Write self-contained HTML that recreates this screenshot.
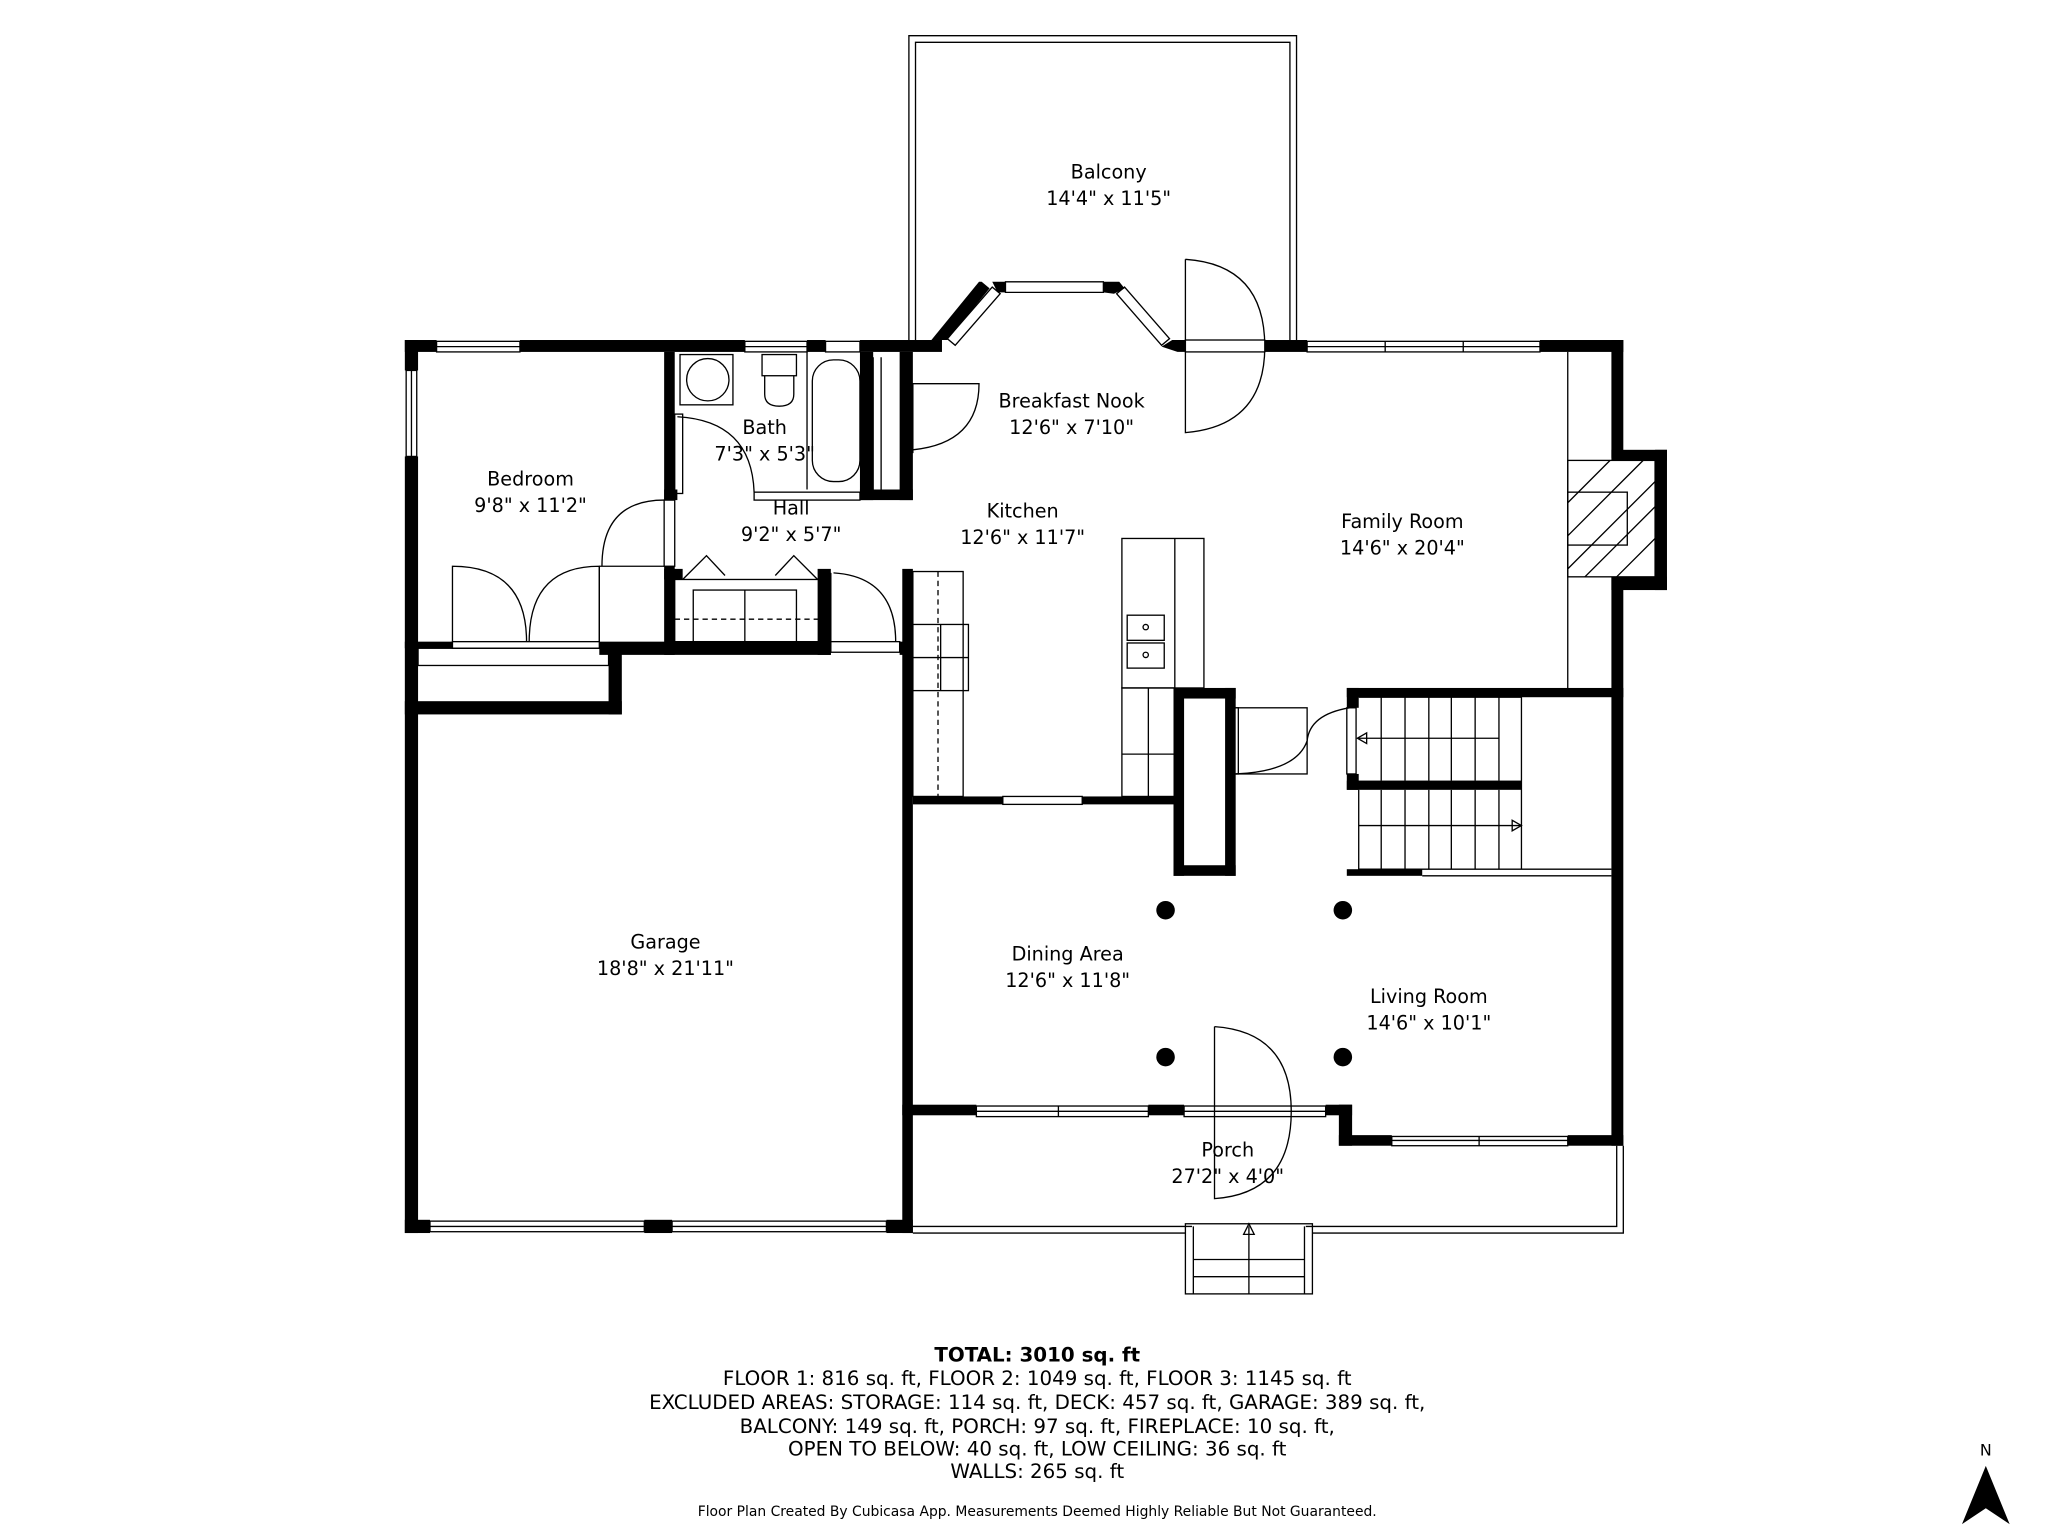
<!DOCTYPE html>
<html><head><meta charset="utf-8">
<style>
html,body{margin:0;padding:0;background:#fff;}
svg{display:block;}
text{font-family:"DejaVu Sans","Liberation Sans",sans-serif;fill:#000;}
</style></head>
<body>
<svg width="2048" height="1536" viewBox="0 0 1548 1161" preserveAspectRatio="none" xmlns="http://www.w3.org/2000/svg">
<rect x="0" y="0" width="1548" height="1161" fill="#fff"/>
<g fill="none" stroke="#000" stroke-width="1">
<path d="M687 257 V27 H980 V257"/>
<path d="M692 257 V32 H975 V257"/>
<path d="M690 932 H896 M992 932 H1227 V866"/>
<path d="M690 927 H901 M987 927 H1222 V866"/>
<rect x="896" y="925" width="96" height="53"/>
<path d="M902 927 V978 M986 927 V978 M902 952 H986 M902 965 H986 M944 927 V978"/>
<path d="M944 925 l-4 8 h8 z"/>
<path d="M342 485 V428 Q398 428 398 485"/>
<path d="M453 485 V428 Q400 428 400 485"/>
<path d="M453 485 V428 M453 428 H502"/>
<path d="M455 428 Q455 378 502 378"/>
<path d="M512 315 Q568 318 570 372"/>
<rect x="510" y="313" width="6" height="60"/>
<rect x="514" y="268" width="40" height="38"/>
<circle cx="535" cy="287" r="16"/>
<rect x="576" y="268" width="26" height="16"/>
<path d="M578 284 V298 Q578 307 589 307 Q600 307 600 298 V284"/>
<rect x="614" y="272" width="36" height="92" rx="16"/>
<path d="M610 266 V370"/>
<path d="M516 438 L534 420 L548 435 M586 435 L600 420 L618 438"/>
<rect x="510" y="438" width="110" height="47"/>
<rect x="524" y="446" width="78" height="39"/>
<path d="M563 446 V485"/>
<path d="M510 468 H620" stroke-dasharray="4 3"/>
<path d="M630 433 Q677 436 677 485 M628 433 V485"/>
<rect x="628" y="485" width="52" height="8"/>
<rect x="502" y="378" width="8" height="50"/>
<path d="M690 290 Q735 290 740 290 Q740 335 690 340"/>
<rect x="684" y="290" width="6" height="52"/>
<path d="M660 270 V372 M666 270 V372"/>
<rect x="690" y="432" width="38" height="170"/>
<path d="M709 432 V602" stroke-dasharray="4 3"/>
<rect x="690" y="472" width="42" height="50"/>
<path d="M711 472 V522 M690 497 H732"/>
<rect x="848" y="407" width="62" height="113"/>
<path d="M888 407 V520"/>
<rect x="848" y="520" width="40" height="82"/>
<path d="M848 570 H888 M868 520 V602" />
<rect x="852" y="465" width="28" height="19"/><rect x="852" y="486" width="28" height="19"/>
<circle cx="866" cy="474" r="2"/><circle cx="866" cy="495" r="2"/>
<path d="M896 196 Q956 200 956 262 Q956 322 896 327 V196"/>
<rect x="896" y="257" width="60" height="9" fill="#fff"/>
<path d="M1185 266 V522"/>
<rect x="1185" y="348" width="66" height="88"/>
<rect x="1185" y="372" width="45" height="40"/>
<path d="M1185 380 L1217 348 M1185 405 L1242 348 M1185 430 L1251 364 M1198 436 L1251 383 M1222 436 L1251 407"/>
<rect x="930" y="535" width="58" height="50"/>
<path d="M934 585 Q980 583 988 560 Q990 540 1020 535"/>
<rect x="930" y="535" width="6" height="50"/>
<rect x="1018" y="535" width="7" height="50"/>
<path d="M1027 527 H1150 V657 M1027 597 V657 H1218"/>
<path d="M1044 527 V590 M1062 527 V590 M1080 527 V590 M1097 527 V590 M1115 527 V590 M1133 527 V590"/>
<path d="M1044 597 V657 M1062 597 V657 M1080 597 V657 M1097 597 V657 M1115 597 V657 M1133 597 V657"/>
<path d="M1027 558 H1133 M1027 624 H1150"/>
<path d="M1026 558 l7 -4 v8 z M1150 624 l-7 -4 v8 z"/>
<path d="M1075 662 H1218"/>
<path d="M918 776 Q976 780 976 840 Q976 902 918 906 V776"/>
<g>
<rect x="330" y="258" width="63" height="8"/><path d="M330 262 H393"/>
<rect x="307" y="280" width="8" height="65"/><path d="M311 280 V345"/>
<rect x="563" y="258" width="47" height="8"/><path d="M563 262 H610"/>
<rect x="624" y="258" width="26" height="8"/>
<rect x="988" y="258" width="176" height="8"/><path d="M988 262 H1164 M1047 258 V266 M1106 258 V266"/>
<rect x="738" y="836" width="130" height="8"/><path d="M738 840 H868 M800 836 V844"/>
<rect x="895" y="836" width="107" height="8"/><path d="M895 840 H1002"/>
<rect x="1052" y="859" width="133" height="7"/><path d="M1052 862 H1185 M1118 859 V866"/>
<rect x="758" y="602" width="60" height="6"/>
<rect x="342" y="485" width="111" height="5"/>
<rect x="316" y="490" width="144" height="13"/>
<rect x="325" y="923" width="162" height="8"/><path d="M325 927 H487"/>
<rect x="508" y="923" width="162" height="8"/><path d="M508 927 H670"/>
<rect x="570" y="372" width="80" height="6"/>
</g>
</g>
<g stroke="#000" stroke-width="1" fill="#fff">
<polygon points="716,256 750,217 756,222 722,261"/>
<polygon points="760,213 834,213 834,221 760,221"/>
<polygon points="844,222 850,217 884,256 878,261"/>
</g>
<g fill="#000">
<rect x="306" y="257" width="24" height="9"/><rect x="393" y="257" width="170" height="9"/>
<rect x="610" y="257" width="14" height="9"/><rect x="650" y="257" width="62" height="9"/>
<polygon points="704,257 716,257 748,218 742,213 740,213"/>
<polygon points="750,213 760,213 760,221 754,221"/>
<polygon points="834,213 846,213 850,218 842,222 834,221"/>
<polygon points="878,262 890,266 896,266 896,257 886,257"/>
<rect x="956" y="257" width="32" height="9"/>
<rect x="1164" y="257" width="63" height="9"/>
<rect x="1218" y="257" width="9" height="89"/>
<rect x="1218" y="340" width="42" height="8"/><rect x="1251" y="340" width="9" height="106"/>
<rect x="1218" y="436" width="42" height="10"/>
<rect x="1218" y="436" width="9" height="430"/>
<rect x="306" y="257" width="10" height="23"/><rect x="306" y="345" width="10" height="587"/>
<rect x="502" y="266" width="8" height="112"/><rect x="502" y="428" width="8" height="67"/>
<rect x="680" y="266" width="10" height="112"/><rect x="650" y="266" width="10" height="112"/>
<rect x="502" y="370" width="10" height="8"/><rect x="650" y="370" width="40" height="8"/>
<rect x="306" y="485" width="36" height="5"/><rect x="453" y="485" width="175" height="10"/>
<rect x="680" y="485" width="10" height="10"/>
<rect x="306" y="530" width="164" height="10"/><rect x="460" y="490" width="10" height="50"/>
<rect x="502" y="430" width="14" height="8"/><rect x="618" y="430" width="10" height="65"/>
<rect x="682" y="430" width="8" height="502"/>
<rect x="306" y="922" width="19" height="10"/><rect x="487" y="922" width="21" height="10"/><rect x="670" y="922" width="20" height="10"/>
<rect x="690" y="602" width="68" height="6"/><rect x="818" y="602" width="70" height="6"/>
<rect x="887" y="520" width="47" height="8"/><rect x="887" y="520" width="8" height="142"/>
<rect x="926" y="520" width="8" height="142"/><rect x="887" y="654" width="47" height="8"/>
<rect x="1018" y="520" width="209" height="7"/><rect x="1018" y="520" width="9" height="15"/><rect x="1018" y="585" width="9" height="12"/>
<rect x="1018" y="590" width="132" height="7"/>
<rect x="1018" y="657" width="57" height="5"/>
<rect x="682" y="835" width="56" height="8"/><rect x="868" y="835" width="27" height="8"/><rect x="1002" y="835" width="20" height="8"/>
<rect x="1012" y="835" width="10" height="31"/><rect x="1012" y="858" width="40" height="8"/><rect x="1185" y="858" width="42" height="8"/>
<circle cx="881" cy="688" r="7"/><circle cx="1015" cy="688" r="7"/>
<circle cx="881" cy="799" r="7"/><circle cx="1015" cy="799" r="7"/>
</g>
<g font-size="14.5" text-anchor="middle">
<text x="838" y="135">Balcony</text><text x="838" y="155">14'4" x 11'5"</text>
<text x="810" y="308">Breakfast Nook</text><text x="810" y="328">12'6" x 7'10"</text>
<text x="578" y="328">Bath</text><text x="578" y="348">7'3" x 5'3"</text>
<text x="401" y="367">Bedroom</text><text x="401" y="387">9'8" x 11'2"</text>
<text x="598" y="389">Hall</text><text x="598" y="409">9'2" x 5'7"</text>
<text x="773" y="391">Kitchen</text><text x="773" y="411">12'6" x 11'7"</text>
<text x="1060" y="399">Family Room</text><text x="1060" y="419">14'6" x 20'4"</text>
<text x="503" y="717">Garage</text><text x="503" y="737">18'8" x 21'11"</text>
<text x="807" y="726">Dining Area</text><text x="807" y="746">12'6" x 11'8"</text>
<text x="1080" y="758">Living Room</text><text x="1080" y="778">14'6" x 10'1"</text>
<text x="928" y="874">Porch</text><text x="928" y="894">27'2" x 4'0"</text>
</g>
<g font-size="15" text-anchor="middle">
<text x="784" y="1029" font-weight="bold">TOTAL: 3010 sq. ft</text>
<text x="784" y="1047">FLOOR 1: 816 sq. ft, FLOOR 2: 1049 sq. ft, FLOOR 3: 1145 sq. ft</text>
<text x="784" y="1065">EXCLUDED AREAS: STORAGE: 114 sq. ft, DECK: 457 sq. ft, GARAGE: 389 sq. ft,</text>
<text x="784" y="1083">BALCONY: 149 sq. ft, PORCH: 97 sq. ft, FIREPLACE: 10 sq. ft,</text>
<text x="784" y="1100">OPEN TO BELOW: 40 sq. ft, LOW CEILING: 36 sq. ft</text>
<text x="784" y="1117">WALLS: 265 sq. ft</text>
<text x="784" y="1146" font-size="10.5">Floor Plan Created By Cubicasa App. Measurements Deemed Highly Reliable But Not Guaranteed.</text>
</g>
<text x="1501" y="1100" font-size="12" text-anchor="middle">N</text>
<polygon points="1501,1108 1483,1152 1501,1140 1519,1152" fill="#000"/>
</svg>
</body></html>
